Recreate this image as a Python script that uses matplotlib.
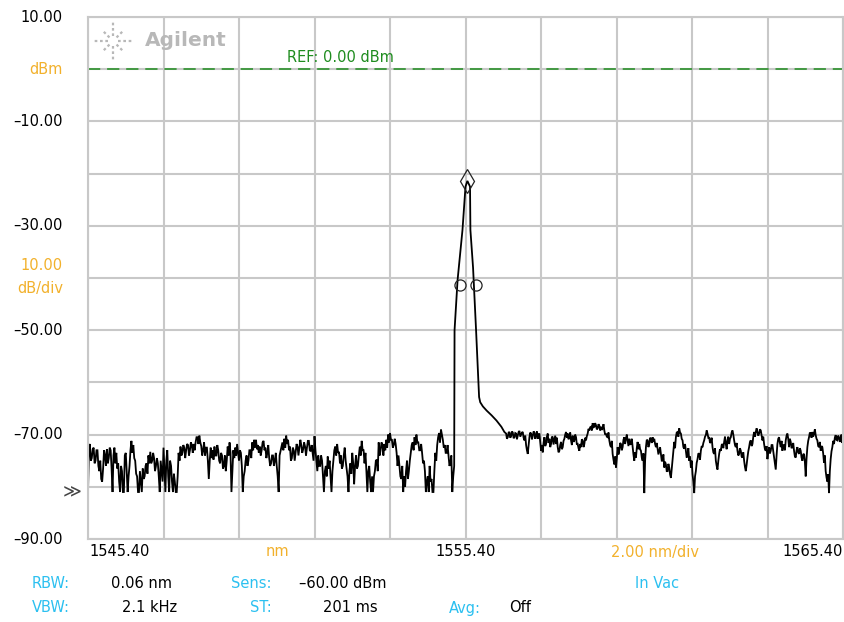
import numpy as np
import matplotlib
matplotlib.use("Agg")
import matplotlib.pyplot as plt
from matplotlib.lines import Line2D

plt.rcParams['font.family'] = ['DejaVu Sans']

# ---------------- data ----------------
wl_min, wl_max = 1545.40, 1565.40
db_min, db_max = -90.0, 10.0
n_div = 10

ytick_vals = [10, -10, -30, -50, -70, -90]
ytick_labels = ["10.00", "–10.00", "–30.00", "–50.00", "–70.00", "–90.00"]
xtick_labels = ["1545.40", "1555.40", "1565.40"]

# noise floor, left of the peak (two readings per 0.05 nm step: a, then b)
seg1_start, seg1_end = 1545.40, 1550.45
seg1_a = [-81, -71.8, -74.5, -72.5, -75, -73, -77, -78.5, -76.5, -74,
          -72.8, -74.5, -73, -81, -72.5, -73.5, -75.5, -81, -77, -81,
          -73.5, -81, -76, -71.2, -72, -75, -78, -81, -79, -76.5,
          -78, -75.5, -74, -73.3, -75, -74.5, -76, -75.5, -81, -77,
          -72.5, -81, -73, -81, -76, -81, -79, -81, -73.5, -72.3,
          -73.5, -72.5, -73, -72, -73, -72, -71.8, -71.5, -70.5, -70.2,
          -72.2, -73, -74, -72.5, -78.5, -72.5, -73, -72.3, -74, -73,
          -75.5, -74, -76, -77, -72.3, -71.5, -81, -73, -72.5, -71.8,
          -75, -73.5, -81, -77, -74, -75, -73, -71.5, -71, -71,
          -72, -72.3, -73, -71.2, -72.5, -73.5, -74.5, -75.5, -74, -75,
          -76, -81]
seg1_b = [-72.5, -75, -72.8, -75.5, -73, -76, -75, -79, -73, -76,
          -75.5, -72.5, -76.5, -74, -75.5, -76.5, -79, -76, -81, -74,
          -77, -78, -73, -73.5, -74.5, -77.5, -81, -77, -81, -78.5,
          -76, -77.5, -75.5, -75.5, -73.5, -77, -74.5, -78, -75, -79,
          -77, -75, -78, -75, -79, -77.5, -81, -78, -75, -74,
          -72, -74.5, -71.8, -74, -71.5, -73.5, -73, -70.5, -71.8, -71.5,
          -74, -71.5, -72.5, -75, -75, -74.5, -74.8, -74, -72, -75,
          -73.5, -76.5, -74, -75, -74, -73.5, -77, -74.5, -74, -73.5,
          -73, -76, -78, -75, -76, -73, -74.5, -73, -72.5, -72.8,
          -73.5, -74, -71.5, -73, -74.5, -72, -76, -74, -76, -73.5,
          -78, -74]

seg2_start, seg2_end = 1550.55, 1555.05
seg2_a = [-71.5, -70.8, -70.2, -71, -72.3, -74.5, -73, -73.3, -72.3, -72.5,
          -72, -72.8, -72.3, -72.5, -71.2, -73.2, -73.5, -70.3, -75, -74,
          -76, -75, -81, -76, -74.2, -75, -81, -75, -72.3, -71.8,
          -73.3, -74, -76, -72.5, -76.5, -81, -75.5, -73.5, -79.5, -74,
          -76, -72.3, -71.2, -73, -73.5, -81, -76, -81, -81, -77,
          -74.8, -71.5, -73, -72, -71.8, -71, -70, -69.7, -71, -72,
          -71.8, -76, -76, -78.5, -81, -80, -75, -77, -73.5, -71.5,
          -70.5, -70, -71.5, -73, -73.5, -75, -81, -78, -76, -78.5,
          -81, -73.5, -72, -69.7, -69, -71, -72, -73.5, -74, -75.5,
          -81]
seg2_b = [-73, -72.5, -71.8, -73, -75, -72.5, -75, -71.8, -74, -71,
          -73.5, -71.5, -74, -71.2, -73, -72, -75, -73, -77, -76,
          -74, -78, -77, -78, -76.5, -78, -77, -73, -74, -73.5,
          -75.5, -76.5, -74, -75, -78, -77, -77.5, -75.5, -76, -76.5,
          -74, -74, -73, -75.5, -77, -77, -79, -78, -78, -75,
          -77, -74, -71.5, -74, -73, -72.5, -71.5, -71, -72.5, -70.8,
          -73.5, -74, -78, -76, -78, -77, -78.5, -75, -72, -73,
          -72, -71.5, -73, -71.8, -75.5, -77, -79, -81, -79, -81,
          -77, -75, -70.5, -71.5, -70, -72.5, -73.5, -72, -76, -74,
          -78]

# the signal peak and its skirt
peak_wl = [1555.10, 1555.11, 1555.19, 1555.32, 1555.40, 1555.45, 1555.52,
           1555.53, 1555.60, 1555.68, 1555.76, 1555.79, 1555.86, 1555.96,
           1556.09, 1556.22, 1556.35, 1556.43]
peak_dbm = [-76, -50, -40.4, -30.8, -22.5, -21.4, -22.5,
            -30.8, -38.0, -50.0, -62.8, -63.8, -64.6, -65.4,
            -66.3, -67.3, -68.5, -69.5]

# noise floor, right of the peak
seg3_start, seg3_end = 1556.476, 1560.841
seg3_a = [-69.8, -70.5, -69.5, -70.3, -69.6, -70.5, -69.8, -70.2, -69.3, -70.0,
          -69.5, -71.1, -72.0, -73.7, -70.5, -69.8, -70.3, -69.6, -70.2, -70.8,
          -69.8, -73.1, -73.4, -70.5, -71.8, -69.8, -70.8, -71.8, -70.5, -71.1,
          -71.8, -72.4, -73.1, -71.4, -72.4, -70.8, -69.5, -69.8, -70.5, -71.1,
          -70.2, -71.1, -70.5, -71.8, -73.1, -72.4, -71.1, -71.8, -71.1, -69.8,
          -69.2, -68.5, -67.8, -68.5, -68.2, -68.8, -68.3, -68.5, -68.8, -69.2,
          -69.8, -70.5, -71.1, -72.4, -73.7, -75.7, -76.3, -72.4, -73.1, -71.8,
          -72.4, -70.5, -70.8, -71.1, -70.8, -71.8, -72.4, -75.0, -74.4, -71.4,
          -71.8, -73.1, -75.0, -81.2, -72.4, -71.1, -71.8, -70.8, -70.5, -70.8,
          -72.4, -72.7, -73.1, -73.7, -75.0, -76.3, -75.7, -77.0, -76.3, -78.3]
seg3_b = [-70.8, -69.6, -70.6, -69.4, -70.7, -69.7, -70.9, -69.5, -70.4, -69.6,
          -70.6, -70.2, -73.0, -72.0, -69.6, -70.9, -69.4, -70.8, -69.4, -70.0,
          -71.5, -72.0, -71.6, -72.2, -70.4, -71.6, -72.4, -70.4, -71.9, -70.2,
          -70.6, -73.4, -72.0, -72.8, -71.2, -70.0, -70.6, -70.9, -69.6, -72.0,
          -71.4, -70.0, -71.9, -72.6, -71.8, -70.9, -72.4, -70.6, -70.3, -68.9,
          -68.6, -69.2, -68.6, -67.8, -69.0, -68.0, -69.2, -69.1, -68.0, -70.0,
          -70.4, -69.6, -72.0, -71.2, -74.8, -74.2, -74.6, -73.8, -71.6, -73.0,
          -71.0, -71.8, -70.0, -72.2, -71.9, -70.8, -73.8, -73.4, -72.6, -72.8,
          -72.8, -74.4, -73.6, -75.0, -71.0, -72.4, -70.6, -71.6, -71.4, -71.8,
          -71.6, -73.8, -72.4, -75.0, -73.8, -75.2, -77.0, -75.6, -77.6, -76.6]

seg4_start, seg4_end = 1560.885, 1565.382
seg4_a = [-75.0, -71.4, -70.5, -69.5, -68.8, -69.8, -71.1, -72.7, -73.1, -73.7,
          -75.0, -76.3, -77.6, -81.2, -77.0, -74.7, -73.7, -73.1, -72.4, -71.1,
          -70.1, -69.8, -70.5, -71.4, -72.4, -73.7, -75.0, -76.7, -73.7, -73.1,
          -71.8, -71.4, -71.8, -71.1, -71.8, -70.5, -69.2, -71.1, -72.4, -73.1,
          -73.7, -73.1, -74.4, -75.0, -77.0, -74.4, -72.4, -71.1, -71.8, -69.5,
          -69.5, -69.5, -69.8, -69.2, -71.1, -71.8, -73.1, -74.7, -72.4, -73.1,
          -72.0, -74.4, -76.7, -71.8, -70.5, -72.4, -73.1, -72.0, -71.1, -69.8,
          -72.4, -71.4, -72.4, -73.1, -74.4, -72.4, -73.7, -73.1, -75.0, -73.7,
          -78.0, -72.4, -70.5, -69.8, -69.5, -69.8, -70.1, -71.1, -72.4, -73.1,
          -72.4, -75.4, -77.0, -79.0, -81.2, -74.7, -72.4, -71.8, -70.1, -71.1,
          -70.5, -70.8, -71.6]
seg4_b = [-73.0, -72.6, -69.6, -70.4, -69.6, -70.8, -72.4, -71.8, -74.4, -72.6,
          -74.2, -75.0, -79.0, -78.0, -75.4, -73.6, -74.8, -72.2, -71.6, -70.4,
          -69.2, -70.6, -71.6, -70.6, -73.4, -72.6, -76.0, -75.0, -72.8, -72.0,
          -72.6, -70.4, -72.8, -70.4, -70.8, -69.6, -70.0, -72.0, -71.6, -74.0,
          -72.6, -74.2, -73.4, -76.2, -75.8, -73.2, -71.4, -72.2, -70.4, -70.4,
          -68.8, -70.2, -69.0, -70.2, -70.4, -72.8, -72.2, -73.4, -73.6, -72.0,
          -73.2, -75.6, -74.0, -70.8, -71.6, -71.2, -72.0, -73.0, -70.2, -70.8,
          -70.8, -72.6, -71.6, -74.2, -73.0, -73.4, -72.6, -74.4, -73.8, -75.2,
          -74.6, -71.2, -69.6, -70.6, -70.4, -69.0, -70.8, -72.2, -71.4, -72.2,
          -73.6, -74.0, -78.2, -77.6, -77.0, -73.2, -71.2, -70.6, -71.0, -70.2,
          -71.4, -70.0, -70.8]

marker_peak_wl, marker_peak_dbm = 1555.45, -21.4
marker_bw_wl = [1555.26, 1555.67]
marker_bw_dbm = [-41.3, -41.3]
ref_level = 0.0
floor_level = -81.0


# ---------------- build trace ----------------
def interleave(start, end, a, b):
    wa = np.linspace(start, end, len(a))
    half = (wa[1] - wa[0]) / 2.0
    w = np.empty(2 * len(a))
    v = np.empty(2 * len(a))
    w[0::2], w[1::2] = wa, wa + half
    v[0::2], v[1::2] = a, b
    return w, v


parts = [interleave(seg1_start, seg1_end, seg1_a, seg1_b),
         interleave(seg2_start, seg2_end, seg2_a, seg2_b),
         (np.array(peak_wl), np.array(peak_dbm)),
         interleave(seg3_start, seg3_end, seg3_a, seg3_b),
         interleave(seg4_start, seg4_end, seg4_a, seg4_b)]
wl = np.concatenate([p[0] for p in parts])
dbm = np.concatenate([p[1] for p in parts])

# ---------------- figure ----------------
W, H = 844, 622
fig = plt.figure(figsize=(W / 100, H / 100), dpi=100)
fig.patch.set_facecolor('white')
L, R, T, B = 88, 843, 17, 539
ax = fig.add_axes([L / W, (H - B) / H, (R - L) / W, (B - T) / H])
ax.set_xlim(wl_min, wl_max)
ax.set_ylim(db_min, db_max)
ax.set_xticks(np.linspace(wl_min, wl_max, n_div + 1))
ax.set_yticks(np.linspace(db_min, db_max, n_div + 1))
ax.tick_params(length=0, labelbottom=False, labelleft=False)
grid_c = '#c8c8c8'
ax.grid(True, color=grid_c, lw=1.5)
ax.set_axisbelow(True)
for s in ax.spines.values():
    s.set_color(grid_c)
    s.set_linewidth(1.5)

ORANGE = '#f2b12c'
CYAN = '#2cc0f0'
GREEN = '#1f8c1f'

# reference line
ax.axhline(ref_level, color=GREEN, lw=1.1, ls=(0, (8, 4.5)))

# trace
ax.plot(wl, dbm, color='black', lw=1.3, solid_joinstyle='miter')

# markers
ax.plot([marker_peak_wl], [marker_peak_dbm], ls='none', marker='d', ms=12,
        mfc='none', mec='#222222', mew=0.9)
ax.plot(marker_bw_wl, marker_bw_dbm, ls='none', marker='o', ms=8,
        mfc='none', mec='#222222', mew=0.9)

FS = 10.5


def fx(px):
    return px / W


def fy(py):
    return 1 - py / H


def ydata_to_py(v):
    return T + (db_max - v) / (db_max - db_min) * (B - T)


# y labels
for v, lab in zip(ytick_vals, ytick_labels):
    fig.text(fx(63), fy(ydata_to_py(v)), lab, ha='right', va='center',
             fontsize=FS, color='black')
fig.text(fx(63), fy(ydata_to_py(0)), "dBm", ha='right', va='center',
         fontsize=FS, color=ORANGE)
fig.text(fx(63), fy(266), "10.00", ha='right', va='center', fontsize=FS, color=ORANGE)
fig.text(fx(63), fy(288), "dB/div", ha='right', va='center', fontsize=FS, color=ORANGE)
fig.text(fx(72), fy(ydata_to_py(floor_level)), "≫", ha='center', va='center',
         fontsize=13, color='#444444')

# x labels
XL = 552
fig.text(fx(89), fy(XL), xtick_labels[0], ha='left', va='center', fontsize=FS)
fig.text(fx(466), fy(XL), xtick_labels[1], ha='center', va='center', fontsize=FS)
fig.text(fx(843), fy(XL), xtick_labels[2], ha='right', va='center', fontsize=FS)
fig.text(fx(277), fy(XL), "nm", ha='center', va='center', fontsize=FS, color=ORANGE)
fig.text(fx(655), fy(XL), "2.00 nm/div", ha='center', va='center', fontsize=FS, color=ORANGE)

# REF label
fig.text(fx(340), fy(57), "REF: 0.00 dBm", ha='center', va='center', fontsize=FS, color=GREEN)

# info rows
r1, r2 = 584, 608
fig.text(fx(70), fy(r1), "RBW:", ha='right', va='center', fontsize=FS, color=CYAN)
fig.text(fx(111), fy(r1), "0.06 nm", ha='left', va='center', fontsize=FS)
fig.text(fx(272), fy(r1), "Sens:", ha='right', va='center', fontsize=FS, color=CYAN)
fig.text(fx(299), fy(r1), "–60.00 dBm", ha='left', va='center', fontsize=FS)
fig.text(fx(657), fy(r1), "In Vac", ha='center', va='center', fontsize=FS, color=CYAN)
fig.text(fx(70), fy(r2), "VBW:", ha='right', va='center', fontsize=FS, color=CYAN)
fig.text(fx(122), fy(r2), "2.1 kHz", ha='left', va='center', fontsize=FS)
fig.text(fx(272), fy(r2), "ST:", ha='right', va='center', fontsize=FS, color=CYAN)
fig.text(fx(323), fy(r2), "201 ms", ha='left', va='center', fontsize=FS)
fig.text(fx(481), fy(r2), "Avg:", ha='right', va='center', fontsize=FS, color=CYAN)
fig.text(fx(509), fy(r2), "Off", ha='left', va='center', fontsize=FS)

# Agilent logo
LOGO = '#b8b8b8'
fig.text(fx(145), fy(41), "Agilent", ha='left', va='center', fontsize=14.5,
         fontweight='bold', color=LOGO)
cx, cy = 113, 41
for k in range(8):
    a = np.pi / 4 * k
    r0, r1_ = 5, 19 if k % 2 == 0 else 15
    xs = [fx(cx + r0 * np.cos(a)), fx(cx + r1_ * np.cos(a))]
    ys = [fy(cy - r0 * np.sin(a)), fy(cy - r1_ * np.sin(a))]
    fig.add_artist(Line2D(xs, ys, transform=fig.transFigure, color=LOGO,
                          lw=1.6, ls=(0, (1.2, 1.2))))

fig.savefig("out.png", dpi=100, facecolor='white')
